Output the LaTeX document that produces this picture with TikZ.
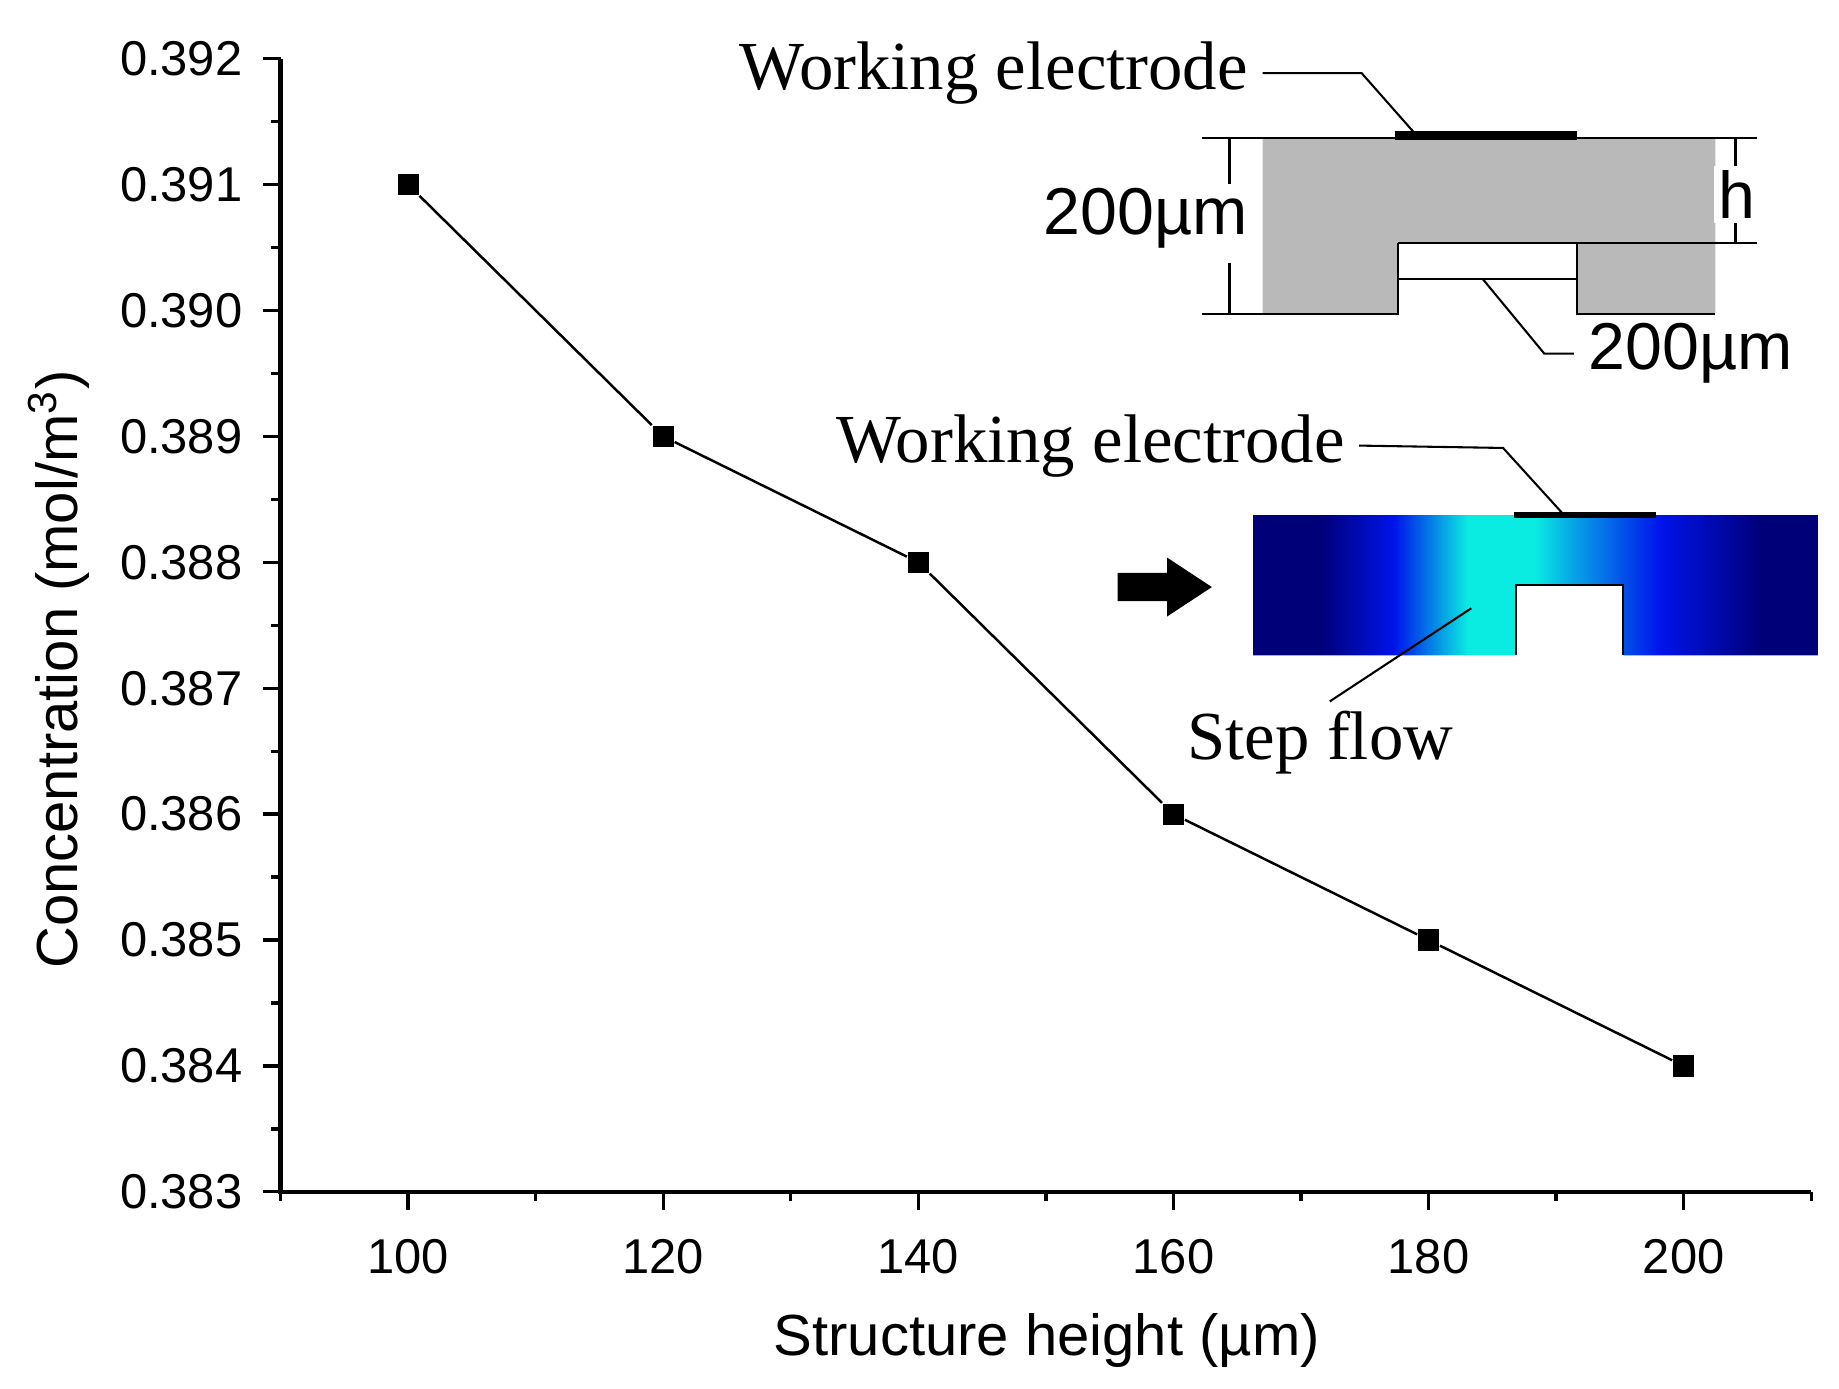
\documentclass[tikz,border=0pt]{standalone}
\usepackage{fontspec}
\setmainfont{Liberation Sans}
\newfontfamily\serif{Liberation Serif}
\definecolor{navyc}{RGB}{0,0,120}
\definecolor{bluec}{RGB}{0,20,235}
\definecolor{cyanc}{RGB}{10,235,225}
\definecolor{midc}{RGB}{7,170,230}
\pgfdeclarehorizontalshading{flowsh}{100bp}{
 color(0bp)=(navyc); color(31bp)=(navyc); color(37.5bp)=(bluec); color(44bp)=(cyanc);
 color(50bp)=(cyanc); color(53bp)=(midc); color(61bp)=(bluec); color(70bp)=(navyc); color(100bp)=(navyc)}
\tikzset{
 mk/.style={fill=black,minimum size=0.18cm,inner sep=0pt,rectangle},
 tl/.style={font=\fontsize{11.8}{13}\selectfont},
 al/.style={font=\fontsize{14}{16}\selectfont},
 ser/.style={font=\serif\fontsize{16.6}{19}\selectfont},
 sans/.style={font=\fontsize{16}{18}\selectfont},
 lead/.style={line width=0.5pt},
}
\begin{document}
\begin{tikzpicture}
\useasboundingbox (0,0) rectangle (15.6,11.78);
% axes
\begin{scope}[shift={(2.38,1.67)},x=0.1082cm,y=1.068cm]
 \draw[line width=1.1pt] (0,9) -- (0,0) -- (120,0);
 \foreach \i/\lab in {0/0.383,1/0.384,2/0.385,3/0.386,4/0.387,5/0.388,6/0.389,7/0.390,8/0.391,9/0.392} {\draw[line width=0.8pt] (0,\i) -- ++(-0.15cm,0);
   \node[tl,anchor=east] at ([xshift=-0.2cm]0,\i) {\lab};}
 \foreach \i in {0,...,8} {\draw[line width=0.8pt] (0,\i+0.5) -- ++(-0.08cm,0);}
 \foreach \h in {100,120,...,200} {\draw[line width=0.8pt] (\h-90,0) -- ++(0,-0.15cm);
   \node[tl,anchor=north] at ([yshift=-0.28cm]\h-90,0) {\h};}
 \foreach \h in {90,110,...,210} {\draw[line width=0.8pt] (\h-90,0) -- ++(0,-0.08cm);}
 \node[mk] (p1) at (10,8) {};
 \node[mk] (p2) at (30,6) {};
 \node[mk] (p3) at (50,5) {};
 \node[mk] (p4) at (70,3) {};
 \node[mk] (p5) at (90,2) {};
 \node[mk] (p6) at (110,1) {};
 \draw[line width=0.6pt] (p1) -- (p2) -- (p3) -- (p4) -- (p5) -- (p6);
\end{scope}
\node[al] (xl) at (8.88,0.41) {Structure height (µm)};
\node[al,rotate=90] (yl) at (0.50,6.1) {Concentration (mol/m\textsuperscript{3})};
% top inset
\fill[gray!55] (10.71,10.61) -- (14.55,10.61) -- (14.55,9.12) -- (13.38,9.12) -- (13.38,9.72) -- (11.86,9.72) -- (11.86,9.12) -- (10.71,9.12) -- cycle;
\draw[line width=0.6pt] (10.20,10.61) -- (14.90,10.61);
\draw[line width=0.6pt] (11.86,9.72) -- (14.90,9.72);
\draw[line width=0.5pt] (10.20,9.12) -- (11.86,9.12) -- (11.86,9.72);
\draw[line width=0.5pt] (13.38,9.72) -- (13.38,9.12) -- (14.55,9.12);
\draw[line width=0.5pt] (11.86,9.41) -- (13.38,9.41);
\draw[line width=2.2pt] (11.83,10.63) -- (13.38,10.63);
\node[ser] (we1) at (8.43,11.16) {Working electrode};
\draw[lead] (we1.east) -- (11.55,11.16) -- (12.00,10.65);
\coordinate (d1t) at (10.43,10.61); \coordinate (d1b) at (10.43,9.12);
\draw[line width=0.6pt] (d1t) -- (10.43,10.15) (10.43,9.55) -- (d1b);
\node[sans,fill=white,inner sep=1pt] (d1) at (9.72,9.93) {200µm};
\draw[line width=0.6pt] (14.72,10.61) -- (14.72,9.72);
\node[sans,fill=white,inner sep=1pt] (hh) at (14.73,10.13) {h};
\node[sans,anchor=west] (d2) at (13.35,8.78) {200µm};
\draw[lead] (12.58,9.41) -- (13.10,8.78) -- (d2.west);
% bottom inset
\shade[shading=flowsh] (10.63,7.41) -- (15.42,7.41) -- (15.42,6.22) -- (13.77,6.22) -- (13.77,6.82) -- (12.86,6.82) -- (12.86,6.22) -- (10.63,6.22) -- cycle;
\draw[line width=0.5pt] (12.86,6.22) -- (12.86,6.82) -- (13.77,6.82) -- (13.77,6.22);
\draw[line width=1.5pt] (12.84,7.41) -- (14.05,7.41);
\node[ser] (we2) at (9.25,8.00) {Working electrode};
\draw[lead] (we2.east) -- (12.75,7.98) -- (13.25,7.43);
\fill (9.48,6.92) -- (9.90,6.92) -- (9.90,7.05) -- (10.28,6.80) -- (9.90,6.55) -- (9.90,6.68) -- (9.48,6.68) -- cycle;
\node[ser] (sf) at (11.20,5.48) {Step flow};
\coordinate (sfp) at (12.48,6.62);
\draw[lead] (sfp) -- (11.28,5.83);
\end{tikzpicture}
\end{document}
